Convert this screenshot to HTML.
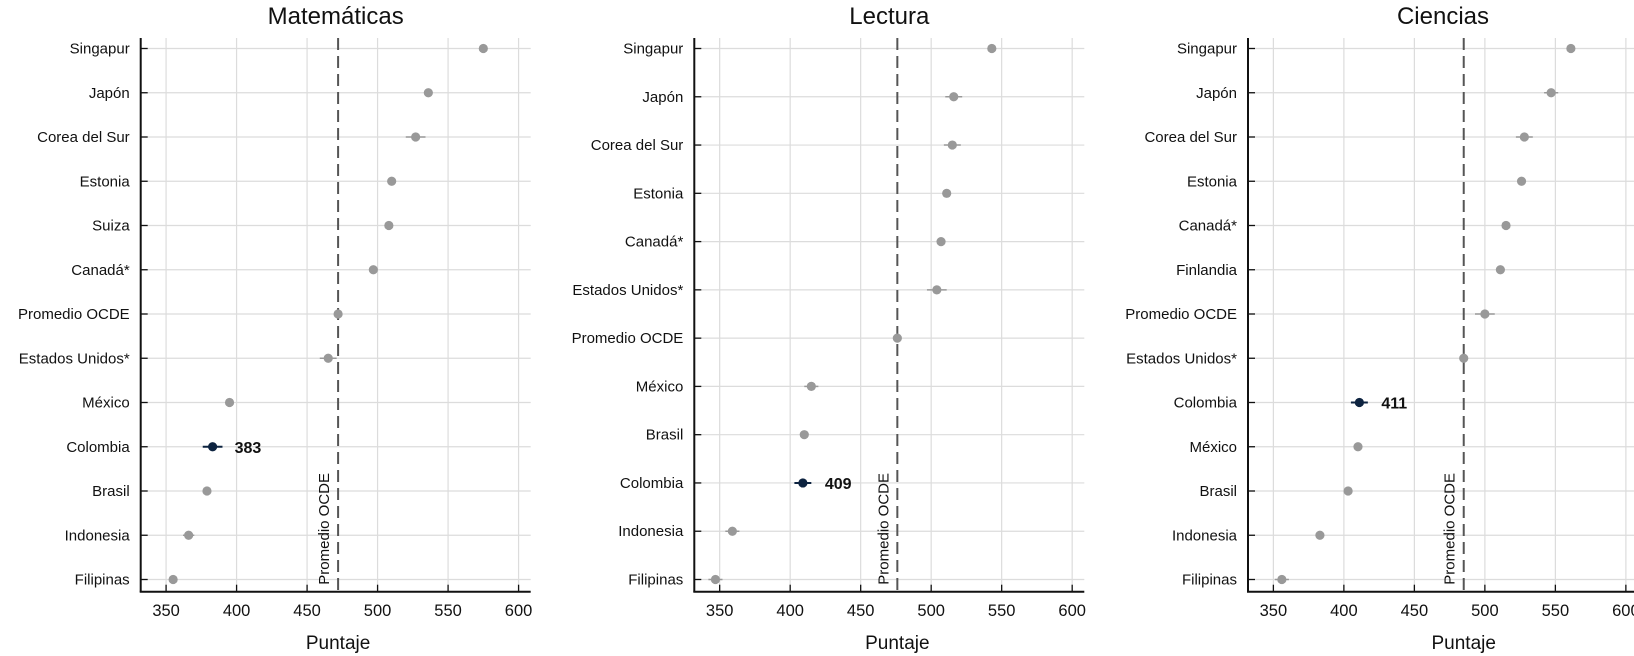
<!DOCTYPE html>
<html><head><meta charset="utf-8">
<style>
html,body{margin:0;padding:0;background:#fff;}
svg{display:block;font-family:"Liberation Sans",Arial,sans-serif;}
</style></head>
<body>
<svg id="chart" width="1634" height="656" viewBox="0 0 1634 656" xmlns="http://www.w3.org/2000/svg"></svg>
<script>
// ---- data ----
const mathCountries = ["Singapur","Japón","Corea del Sur","Estonia","Suiza","Canadá*","Promedio OCDE","Estados Unidos*","México","Colombia","Brasil","Indonesia","Filipinas"];
const mathScores = [575,536,527,510,508,497,472,465,395,383,379,366,355];
const mathErr = [1.5,3,7,1.5,1.5,1.5,0.5,6,1.5,7,1.5,4,1.5];
const mathOcde = 472;

const readCountries = ["Singapur","Japón","Corea del Sur","Estonia","Canadá*","Estados Unidos*","Promedio OCDE","México","Brasil","Colombia","Indonesia","Filipinas"];
const readScores = [543,516,515,511,507,504,476,415,410,409,359,347];
const readErr = [1.5,6,6,1.5,1.5,7,0.5,5,1.5,6,5,5];
const readOcde = 476;

const sciCountries = ["Singapur","Japón","Corea del Sur","Estonia","Canadá*","Finlandia","Promedio OCDE","Estados Unidos*","Colombia","México","Brasil","Indonesia","Filipinas"];
const sciScores = [561,547,528,526,515,511,500,485,411,410,403,383,356];
const sciErr = [1.5,5,6,1.5,1.5,2.5,7,1.5,6,1.5,1.5,3,5];
const sciOcde = 485;

const xTicks = [350,400,450,500,550,600];
const titles = ["Matemáticas","Lectura","Ciencias"];
const highlight = "Colombia";

// ---- drawing ----
const NS = "http://www.w3.org/2000/svg";
const svg = document.getElementById("chart");
function mk(tag, attrs, parent){
  const e = document.createElementNS(NS, tag);
  for (const k in attrs) e.setAttribute(k, attrs[k]);
  (parent||svg).appendChild(e);
  return e;
}
const X_MIN = 332, X_MAX = 608.6;
const PLOT_W = 390, TOP = 38, BOTTOM = 591.7, ROW_TOP = 48.5, ROW_BOT = 579.5;

function drawPanel(idx, left, countries, scores, errs, ocde){
  const g = mk("g", {});
  
  
  const xs = v => left + (v - X_MIN) / (X_MAX - X_MIN) * PLOT_W;
  const n = countries.length;
  const ys = i => ROW_TOP + i * (ROW_BOT - ROW_TOP) / (n - 1);

  const t = mk("text", {x: left + PLOT_W/2, y: 24, "text-anchor":"middle", "font-size":24, fill:"#111"}, g);
  t.textContent = titles[idx];
  
  

  xTicks.forEach(v => {
    const l = mk("line", {x1: xs(v), x2: xs(v), y1: TOP, y2: BOTTOM, stroke:"#dcdcdc", "stroke-width":1.2}, g);
    
    
  });
  countries.forEach((c, i) => {
    const y = ys(i);
    const l = mk("line", {x1: left, x2: left + PLOT_W, y1: y, y2: y, stroke:"#dcdcdc", "stroke-width":1.2}, g);
    
    
    const tk = mk("line", {x1: left, x2: left + 7, y1: y, y2: y, stroke:"#111", "stroke-width":1.3}, g);
    
    
    const lb = mk("text", {x: left - 11, y: y + 5, "text-anchor":"end", "font-size":15, fill:"#111"}, g);
    lb.textContent = c;
    
    
  });

  const ya = mk("line", {x1: left, x2: left, y1: TOP, y2: BOTTOM, stroke:"#111", "stroke-width":2}, g);
  
  
  const xa = mk("line", {x1: left - 1, x2: left + PLOT_W, y1: BOTTOM, y2: BOTTOM, stroke:"#111", "stroke-width":2}, g);
  
  
  xTicks.forEach(v => {
    const tk = mk("line", {x1: xs(v), x2: xs(v), y1: BOTTOM, y2: BOTTOM - 7, stroke:"#111", "stroke-width":1.3}, g);
    
    
    const lb = mk("text", {x: xs(v), y: 616, "text-anchor":"middle", "font-size":16.5, fill:"#111"}, g);
    lb.textContent = v;
    
    
  });

  const ox = xs(ocde);
  const ol = mk("line", {x1: ox, x2: ox, y1: TOP, y2: BOTTOM, stroke:"#555", "stroke-width":2, "stroke-dasharray":"12,6"}, g);
  
  
  const ot = mk("text", {x: 0, y: 0, "font-size":15, fill:"#111", transform:`translate(${ox - 9},${BOTTOM - 7}) rotate(-90)`}, g);
  ot.textContent = "Promedio OCDE";
  
  

  const at = mk("text", {x: ox, y: 649, "text-anchor":"middle", "font-size":19, fill:"#111"}, g);
  at.textContent = "Puntaje";
  
  

  countries.forEach((c, i) => {
    const y = ys(i), v = scores[i], e = errs[i];
    const hi = c === highlight;
    const col = hi ? "#0d2340" : "#999";
    const eb = mk("line", {x1: xs(v - e), x2: xs(v + e), y1: y, y2: y, stroke: col, "stroke-width": hi ? 2 : 1.5}, g);
    
    
    const p = mk("circle", {cx: xs(v), cy: y, r: 4.6, fill: col}, g);
    
    
    if (hi) {
      const vl = mk("text", {x: xs(v) + 22, y: y + 6, "font-size":16, "font-weight":"bold", fill:"#111"}, g);
      vl.textContent = v;
      
      
    }
  });
}
drawPanel(0, 140.7, mathCountries, mathScores, mathErr, mathOcde);
drawPanel(1, 694.3, readCountries, readScores, readErr, readOcde);
drawPanel(2, 1248, sciCountries, sciScores, sciErr, sciOcde);
</script>
</body></html>
